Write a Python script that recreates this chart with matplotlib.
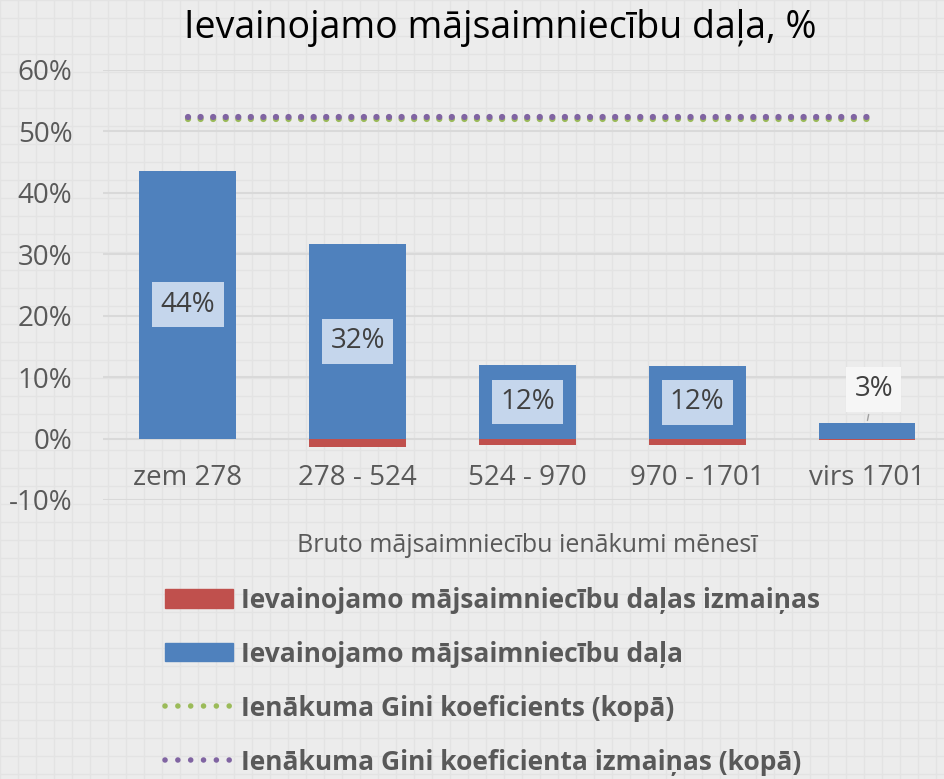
import numpy as np
import matplotlib.pyplot as plt
from matplotlib.patches import Patch
from matplotlib.lines import Line2D

plt.rcParams['font.family'] = ['Open Sans', 'DejaVu Sans']

# donnees
categories = ['zem 278', '278 - 524', '524 - 970', '970 - 1701', 'virs 1701']
dala = [43.6, 31.7, 11.9, 11.8, 2.5]          # Ievainojamo majsaimniecibu dala
izmainas = [0.0, -1.4, -1.0, -1.0, -0.2]       # dalas izmainas
labels = ['44%', '32%', '12%', '12%', '3%']
gini = [52.0, 52.0, 52.0, 52.0, 52.0]
gini_izm = [52.4, 52.4, 52.4, 52.4, 52.4]
yticks = [-10, 0, 10, 20, 30, 40, 50, 60]

blue = '#4f81bd'
red = '#c0504d'
green = '#9bbb59'
purple = '#8064a2'
txt = '#595959'

fig = plt.figure(figsize=(9.45, 7.79), dpi=100, facecolor='#ececec')

# fond quadrille
bg = fig.add_axes([0, 0, 1, 1], zorder=-10)
bg.set_xlim(0, 945)
bg.set_ylim(779, 0)
for v in np.arange(0, 945, 18):
    bg.axvline(v, color='#e3e3e3', lw=1)
for v in np.arange(0, 779, 18):
    bg.axhline(v, color='#e3e3e3', lw=1)
bg.set_facecolor('#ececec')
bg.axis('off')

W, H = 945, 779
ax = fig.add_axes([103 / W, 1 - 500 / H, (945 - 103) / W, (500 - 70) / H])
ax.patch.set_alpha(0)
ax.spines['bottom'].set_position(('data', 0))
x = np.arange(len(categories))
ax.set_xlim(-0.5, 4.46)
ax.set_ylim(-10, 60)

ax.bar(x, izmainas, width=0.57, color=red, zorder=3)
ax.bar(x, dala, width=0.57, color=blue, zorder=3)
ax.plot(x, gini, linestyle=(0, (0.01, 2.0)), dash_capstyle='round', lw=4.5, color=green, zorder=4)
ax.plot(x, gini_izm, linestyle=(0, (0.01, 2.0)), dash_capstyle='round', lw=4.5, color=purple, zorder=5)

# etiquettes
for i in range(4):
    ax.text(x[i], dala[i] / 2, labels[i], ha='center', va='center', fontsize=20, color='#404040', zorder=6,
            bbox=dict(boxstyle='square,pad=0.3', fc='#c5d6ec', ec='none'))
ax.annotate(labels[4], xy=(x[4], dala[4]), xytext=(x[4] + 0.04, 8.0), ha='center', va='center',
            fontsize=20, color='#404040', zorder=6,
            bbox=dict(boxstyle='square,pad=0.3', fc='#f6f6f6', ec='none'),
            arrowprops=dict(arrowstyle='-', color='#a0a0a0', lw=1))

ax.set_yticks(yticks)
ax.set_yticklabels([f'{v}%' for v in yticks], fontsize=20, color=txt)
ax.set_xticks(x)
ax.set_xticklabels(categories, fontsize=20, color=txt)
ax.tick_params(length=0)
ax.tick_params(axis='y', pad=22)
ax.tick_params(axis='x', pad=18)
ax.grid(axis='y', color='#d9d9d9', lw=1.5, zorder=0)
for s in ax.spines.values():
    s.set_visible(False)
ax.set_axisbelow(True)

fig.text(500 / W, 1 - 28 / H, 'Ievainojamo mājsaimniecību daļa, %', ha='center', va='center', fontsize=27, color='black')
fig.text(527 / W, 1 - 545 / H, 'Bruto mājsaimniecību ienākumi mēnesī', ha='center', va='center', fontsize=18, color=txt)

handles = [Patch(color=red), Patch(color=blue),
           Line2D([0], [0], color=green, lw=4, linestyle=(0, (0.01, 2.3)), dash_capstyle='round'),
           Line2D([0], [0], color=purple, lw=4, linestyle=(0, (0.01, 2.3)), dash_capstyle='round')]
names = ['Ievainojamo mājsaimniecību daļas izmaiņas', 'Ievainojamo mājsaimniecību daļa',
         'Ienākuma Gini koeficients (kopā)', 'Ienākuma Gini koeficienta izmaiņas (kopā)']
leg = fig.legend(handles, names, loc='upper left', bbox_to_anchor=(141 / W, 1 - 563 / H), frameon=False,
                 prop={'weight': 'bold', 'size': 19}, labelcolor=txt, handlelength=2.58, handleheight=0.68,
                 handletextpad=0.3, labelspacing=1.02, borderpad=0.4)

fig.savefig('out.png', dpi=100, facecolor=fig.get_facecolor())
